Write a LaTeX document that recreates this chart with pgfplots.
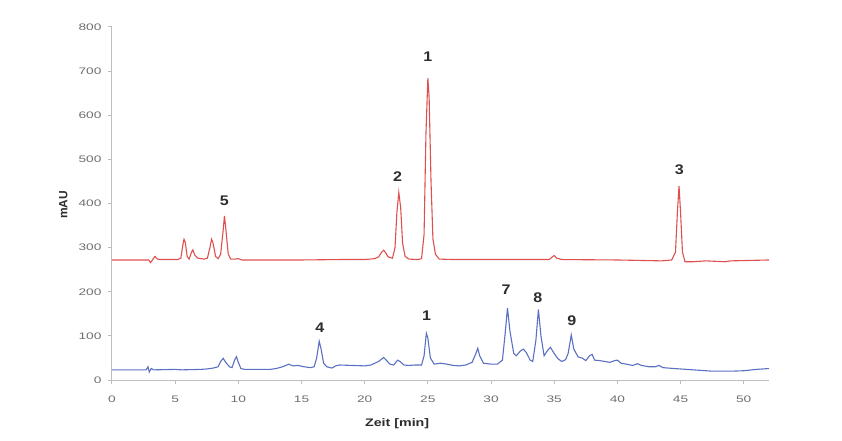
\documentclass[border=0pt]{standalone}
\usepackage{pgfplots}
\pgfplotsset{compat=1.18}
\usepackage{fontspec}
\setmainfont{Liberation Sans}
\definecolor{redline}{RGB}{222,80,80}
\definecolor{blueline}{RGB}{92,112,195}
\definecolor{axgray}{RGB}{190,190,190}
\definecolor{lblgray}{RGB}{110,110,110}
\definecolor{txtdark}{RGB}{45,45,45}
\begin{document}
\begin{tikzpicture}
\path[use as bounding box] (-112bp,-61bp) rectangle (730bp,380bp);
\begin{axis}[
  at={(0,0)}, anchor=origin,
  scale only axis, width=657bp, height=353bp,
  xmin=0, xmax=52, ymin=0, ymax=800,
  axis x line*=bottom, axis y line*=left,
  axis line style={axgray, line width=1bp, -},
  xtick={0,5,...,50}, ytick={0,100,...,800},
  tick align=outside, major tick length=4bp,
  tick style={axgray, line width=1bp},
  every tick label/.style={font=\fontsize{9.5}{11}\selectfont, text=lblgray, xscale=1.45},
  /pgf/number format/assume math mode=true,
  xticklabel style={yshift=-8bp},
  yticklabel style={xshift=-1bp},
  xlabel={Zeit [min]}, ylabel={mAU},
  label style={font=\bfseries\fontsize{11}{12}\selectfont, text=txtdark},
  xlabel style={at={(axis description cs:0.434,-0.125)}, anchor=center, xscale=1.3},
  ylabel style={at={(axis description cs:-0.074,0.496)}, anchor=center, font=\bfseries\fontsize{12}{13}\selectfont},
  clip=false,
]
\addplot[redline, line width=1.1bp] coordinates {
(0,272) (2.9,272) (3.05,266) (3.2,272) (3.4,280) (3.6,274) (3.9,273) (5.2,273)
(5.45,276) (5.6,305) (5.7,319) (5.8,312) (5.95,280) (6.1,274) (6.3,290) (6.4,295)
(6.55,283) (6.8,276) (7.3,274) (7.55,276) (7.75,300) (7.88,319) (8.0,310) (8.2,280)
(8.4,275) (8.6,285) (8.8,340) (8.9,372) (9.0,345) (9.2,285) (9.4,274) (9.7,274)
(10.0,275) (10.3,272) (12,272) (15,272) (18,273) (20,273) (20.8,275) (21.1,279)
(21.35,290) (21.5,294) (21.65,289) (21.85,279) (22.2,276) (22.4,300) (22.55,380)
(22.7,425) (22.85,390) (23.0,310) (23.2,280) (23.5,274) (24.2,273) (24.5,275)
(24.7,330) (24.85,560) (25.0,684) (25.1,640) (25.25,450) (25.4,320) (25.6,285)
(25.9,274) (27,273) (30,273) (34.6,273) (34.9,280) (35.0,282) (35.2,276) (35.6,273)
(40,272) (43.5,270) (44.3,272) (44.6,290) (44.75,380) (44.88,440) (45.0,380)
(45.15,290) (45.35,268) (46,268) (47,270) (48.5,268) (49,270) (52,272)
};
\addplot[blueline, line width=1.1bp] coordinates {
(0,23) (2.7,23) (2.85,30) (2.95,18) (3.1,26) (3.3,23) (5,24) (5.5,23) (7,24)
(7.5,25) (8,27) (8.4,30) (8.6,42) (8.8,49) (9.0,40) (9.3,30) (9.5,28) (9.7,45)
(9.85,53) (10.0,40) (10.2,26) (10.5,24) (11.5,24) (12.5,24) (13.0,26) (13.5,30)
(14.0,36) (14.3,32) (14.7,33) (15.2,30) (15.7,28) (16.0,30) (16.2,50) (16.4,88)
(16.55,70) (16.75,38) (17.0,30) (17.4,27) (17.7,32) (18,34) (19,33) (20,32)
(20.5,34) (20.8,38) (21.1,42) (21.5,51) (21.7,45) (22.0,36) (22.3,34) (22.6,45)
(22.8,42) (23.1,34) (23.5,33) (24,34) (24.5,34) (24.7,55) (24.88,106) (25.0,95)
(25.2,50) (25.5,36) (26,38) (26.5,36) (27,33) (27.5,32) (28,34) (28.5,40)
(28.8,60) (28.95,72) (29.1,55) (29.4,38) (30,36) (30.5,36) (30.9,45) (31.1,100)
(31.3,163) (31.5,110) (31.8,60) (32.0,55) (32.3,65) (32.55,70) (32.8,62)
(33.1,45) (33.3,42) (33.55,90) (33.75,160) (33.95,100) (34.2,55) (34.5,68)
(34.7,74) (35.0,60) (35.3,48) (35.6,42) (35.9,46) (36.1,60) (36.35,102)
(36.55,70) (36.9,52) (37.2,50) (37.5,44) (37.8,55) (38.0,58) (38.2,45) (38.6,44)
(39,42) (39.4,40) (39.8,44) (40.0,45) (40.3,38) (40.7,36) (41.2,33) (41.6,37)
(41.9,33) (42.5,30) (43.0,30) (43.3,33) (43.6,28) (44.5,26) (45.5,24) (46.5,22)
(47.5,20) (49,20) (50,21) (51,24) (52,26)
};
\begin{scope}[every node/.style={font=\bfseries\fontsize{14}{15}\selectfont, text=txtdark, xscale=1.15}]
\node at (axis cs:8.9,406) {5};
\node at (axis cs:22.6,460) {2};
\node at (axis cs:25.0,732) {1};
\node at (axis cs:44.9,476) {3};
\node at (axis cs:16.45,118) {4};
\node at (axis cs:24.9,145) {1};
\node at (axis cs:31.2,204) {7};
\node at (axis cs:33.7,186) {8};
\node at (axis cs:36.4,134) {9};
\end{scope}
\end{axis}
\end{tikzpicture}
\end{document}
